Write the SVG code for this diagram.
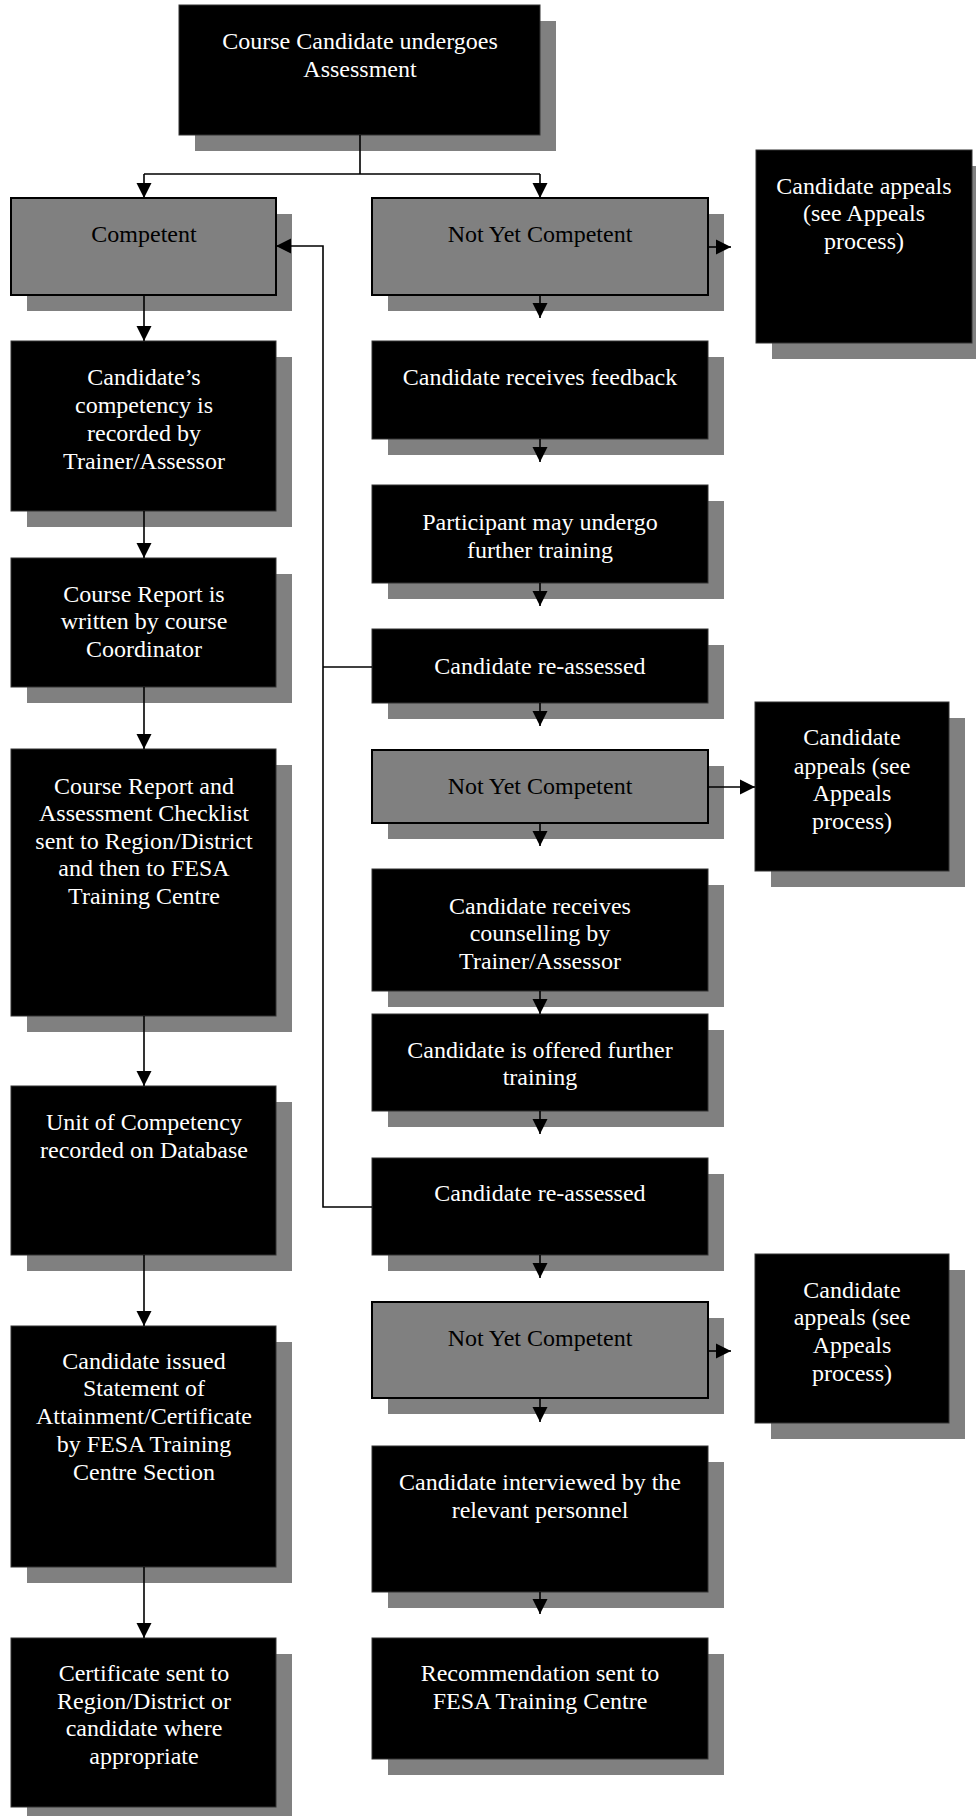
<svg xmlns="http://www.w3.org/2000/svg" width="976" height="1816" viewBox="0 0 976 1816">
<style>
.sh{fill:#808080}
.bk{fill:#000;stroke:#333;stroke-width:1}
.gy{fill:#808080;stroke:#000;stroke-width:2}
text{font-family:"Liberation Serif","Times New Roman",serif;font-size:24px;text-anchor:middle}
.w{fill:#fff}
.b{fill:#000}
.c{fill:none;stroke:#000;stroke-width:1.6}
</style>
<defs>
<marker id="ah" markerUnits="userSpaceOnUse" markerWidth="16" markerHeight="16" viewBox="0 0 16 16" refX="15" refY="8" orient="auto">
<path d="M0,0.5 L15,8 L0,15.5 Z" fill="#000"/>
</marker>
</defs>
<rect width="976" height="1816" fill="#fff"/>

<g id="n-top"><rect class="sh" x="195" y="21" width="361" height="130"/><rect class="bk" x="179" y="5" width="361" height="130"/>
<text class="w" x="360" y="49">Course Candidate undergoes</text><text class="w" x="360" y="77">Assessment</text></g>

<g id="n-competent"><rect class="sh" x="27" y="214" width="265" height="97"/><rect class="gy" x="11" y="198" width="265" height="97"/>
<text class="b" x="144" y="242">Competent</text></g>

<g id="n-nyc1"><rect class="sh" x="388" y="214" width="336" height="97"/><rect class="gy" x="372" y="198" width="336" height="97"/>
<text class="b" x="540" y="242">Not Yet Competent</text></g>

<g id="n-appeals1"><rect class="sh" x="772" y="166" width="216" height="193"/><rect class="bk" x="756" y="150" width="216" height="193"/>
<text class="w" x="864" y="194">Candidate appeals</text><text class="w" x="864" y="221">(see Appeals</text><text class="w" x="864" y="249">process)</text></g>

<g id="n-recorded"><rect class="sh" x="27" y="357" width="265" height="170"/><rect class="bk" x="11" y="341" width="265" height="170"/>
<text class="w" x="144" y="385">Candidate’s</text><text class="w" x="144" y="413">competency is</text><text class="w" x="144" y="441">recorded by</text><text class="w" x="144" y="469">Trainer/Assessor</text></g>

<g id="n-feedback"><rect class="sh" x="388" y="357" width="336" height="98"/><rect class="bk" x="372" y="341" width="336" height="98"/>
<text class="w" x="540" y="385">Candidate receives feedback</text></g>

<g id="n-report"><rect class="sh" x="27" y="574" width="265" height="129"/><rect class="bk" x="11" y="558" width="265" height="129"/>
<text class="w" x="144" y="602">Course Report is</text><text class="w" x="144" y="629">written by course</text><text class="w" x="144" y="657">Coordinator</text></g>

<g id="n-participant"><rect class="sh" x="388" y="501" width="336" height="98"/><rect class="bk" x="372" y="485" width="336" height="98"/>
<text class="w" x="540" y="530">Participant may undergo</text><text class="w" x="540" y="558">further training</text></g>

<g id="n-reassess1"><rect class="sh" x="388" y="645" width="336" height="74"/><rect class="bk" x="372" y="629" width="336" height="74"/>
<text class="w" x="540" y="674">Candidate re-assessed</text></g>

<g id="n-checklist"><rect class="sh" x="27" y="765" width="265" height="267"/><rect class="bk" x="11" y="749" width="265" height="267"/>
<text class="w" x="144" y="794">Course Report and</text><text class="w" x="144" y="821">Assessment Checklist</text><text class="w" x="144" y="849">sent to Region/District</text><text class="w" x="144" y="876">and then to FESA</text><text class="w" x="144" y="904">Training Centre</text></g>

<g id="n-nyc2"><rect class="sh" x="388" y="766" width="336" height="73"/><rect class="gy" x="372" y="750" width="336" height="73"/>
<text class="b" x="540" y="794">Not Yet Competent</text></g>

<g id="n-appeals2"><rect class="sh" x="771" y="718" width="194" height="169"/><rect class="bk" x="755" y="702" width="194" height="169"/>
<text class="w" x="852" y="745">Candidate</text><text class="w" x="852" y="774">appeals (see</text><text class="w" x="852" y="801">Appeals</text><text class="w" x="852" y="829">process)</text></g>

<g id="n-counselling"><rect class="sh" x="388" y="885" width="336" height="122"/><rect class="bk" x="372" y="869" width="336" height="122"/>
<text class="w" x="540" y="914">Candidate receives</text><text class="w" x="540" y="941">counselling by</text><text class="w" x="540" y="969">Trainer/Assessor</text></g>

<g id="n-offered"><rect class="sh" x="388" y="1030" width="336" height="97"/><rect class="bk" x="372" y="1014" width="336" height="97"/>
<text class="w" x="540" y="1058">Candidate is offered further</text><text class="w" x="540" y="1085">training</text></g>

<g id="n-unit"><rect class="sh" x="27" y="1102" width="265" height="169"/><rect class="bk" x="11" y="1086" width="265" height="169"/>
<text class="w" x="144" y="1130">Unit of Competency</text><text class="w" x="144" y="1158">recorded on Database</text></g>

<g id="n-reassess2"><rect class="sh" x="388" y="1174" width="336" height="97"/><rect class="bk" x="372" y="1158" width="336" height="97"/>
<text class="w" x="540" y="1201">Candidate re-assessed</text></g>

<g id="n-nyc3"><rect class="sh" x="388" y="1318" width="336" height="96"/><rect class="gy" x="372" y="1302" width="336" height="96"/>
<text class="b" x="540" y="1346">Not Yet Competent</text></g>

<g id="n-appeals3"><rect class="sh" x="771" y="1270" width="194" height="169"/><rect class="bk" x="755" y="1254" width="194" height="169"/>
<text class="w" x="852" y="1298">Candidate</text><text class="w" x="852" y="1325">appeals (see</text><text class="w" x="852" y="1353">Appeals</text><text class="w" x="852" y="1381">process)</text></g>

<g id="n-issued"><rect class="sh" x="27" y="1342" width="265" height="241"/><rect class="bk" x="11" y="1326" width="265" height="241"/>
<text class="w" x="144" y="1369">Candidate issued</text><text class="w" x="144" y="1396">Statement of</text><text class="w" x="144" y="1424">Attainment/Certificate</text><text class="w" x="144" y="1452">by FESA Training</text><text class="w" x="144" y="1480">Centre Section</text></g>

<g id="n-interviewed"><rect class="sh" x="388" y="1462" width="336" height="146"/><rect class="bk" x="372" y="1446" width="336" height="146"/>
<text class="w" x="540" y="1490">Candidate interviewed by the</text><text class="w" x="540" y="1518">relevant personnel</text></g>

<g id="n-certificate"><rect class="sh" x="27" y="1654" width="265" height="169"/><rect class="bk" x="11" y="1638" width="265" height="169"/>
<text class="w" x="144" y="1681">Certificate sent to</text><text class="w" x="144" y="1709">Region/District or</text><text class="w" x="144" y="1736">candidate where</text><text class="w" x="144" y="1764">appropriate</text></g>

<g id="n-recommendation"><rect class="sh" x="388" y="1654" width="336" height="121"/><rect class="bk" x="372" y="1638" width="336" height="121"/>
<text class="w" x="540" y="1681">Recommendation sent to</text><text class="w" x="540" y="1709">FESA Training Centre</text></g>

<g id="connectors">
<path class="c" d="M360,135 V174 M144,174 H540"/>
<path class="c" d="M144,174 V198" marker-end="url(#ah)"/>
<path class="c" d="M540,174 V198" marker-end="url(#ah)"/>
<path class="c" d="M144,295 V341" marker-end="url(#ah)"/>
<path class="c" d="M144,511 V558" marker-end="url(#ah)"/>
<path class="c" d="M144,687 V749" marker-end="url(#ah)"/>
<path class="c" d="M144,1016 V1086" marker-end="url(#ah)"/>
<path class="c" d="M144,1255 V1326" marker-end="url(#ah)"/>
<path class="c" d="M144,1567 V1638" marker-end="url(#ah)"/>
<path class="c" d="M708,247 H731" marker-end="url(#ah)"/>
<path class="c" d="M540,295 V318" marker-end="url(#ah)"/>
<path class="c" d="M540,439 V462" marker-end="url(#ah)"/>
<path class="c" d="M540,583 V606" marker-end="url(#ah)"/>
<path class="c" d="M540,703 V726" marker-end="url(#ah)"/>
<path class="c" d="M708,787 H755" marker-end="url(#ah)"/>
<path class="c" d="M540,823 V846" marker-end="url(#ah)"/>
<path class="c" d="M540,991 V1014" marker-end="url(#ah)"/>
<path class="c" d="M540,1111 V1134" marker-end="url(#ah)"/>
<path class="c" d="M540,1255 V1278" marker-end="url(#ah)"/>
<path class="c" d="M708,1351 H731" marker-end="url(#ah)"/>
<path class="c" d="M540,1398 V1422" marker-end="url(#ah)"/>
<path class="c" d="M540,1592 V1614" marker-end="url(#ah)"/>
<path class="c" d="M372,667 H323"/>
<path class="c" d="M372,1207 H323 V246 H276" marker-end="url(#ah)"/>
</g>
</svg>
